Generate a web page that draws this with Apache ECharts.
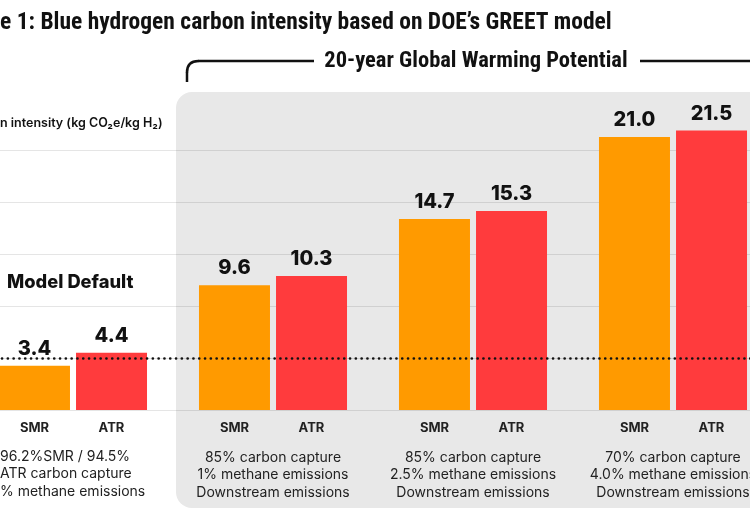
<!DOCTYPE html>
<html>
<head>
<meta charset="utf-8">
<script src="https://cdn.jsdelivr.net/npm/echarts@6/dist/echarts.min.js"></script>
<style>
  html, body { margin: 0; padding: 0; background: #ffffff; }
  #chart { width: 750px; height: 513px; }
</style>
</head>
<body>
<div id="chart"></div>
<script>
// ---- data ----
const groups = ['Model Default', '85/1', '85/2.5', '70/4.0'];
const smrValues = [3.4, 9.6, 14.7, 21.0];
const atrValues = [4.4, 10.3, 15.3, 21.5];
const barNames = ['SMR', 'ATR'];
const groupDescriptions = [
  '',
  '85% carbon capture\n1% methane emissions\nDownstream emissions',
  '85% carbon capture\n2.5% methane emissions\nDownstream emissions',
  '70% carbon capture\n4.0% methane emissions\nDownstream emissions'
];
const defaultDescription = ['96.2%SMR / 94.5%', 'ATR carbon capture', '% methane emissions'];
const thresholdValue = 4;
const yTicks = [0, 4, 8, 12, 16, 20, 24];

const chart = echarts.init(document.getElementById('chart'), null, { renderer: 'canvas' });

const FONT = 'Inter, "Noto Sans", sans-serif';
const CONDENSED = '"Liberation Sans Narrow", "Roboto Condensed", "DejaVu Sans Condensed", sans-serif';

const valueLabel = {
  show: true,
  position: 'top',
  distance: 7,
  fontFamily: FONT,
  fontWeight: 800,
  fontSize: 20,
  color: '#111'
};

const option = {
  backgroundColor: '#ffffff',
  animation: false,
  grid: { left: -27, width: 800, top: 98, bottom: 103, containLabel: false, outerBoundsMode: 'none' },
  xAxis: [
    {
      type: 'category',
      data: groups,
      position: 'bottom',
      axisLine: { show: false },
      axisTick: { show: false },
      axisLabel: {
        interval: 0,
        margin: 12,
        formatter: function () { return '{s|' + barNames[0] + '}{a|' + barNames[1] + '}'; },
        rich: {
          s: { width: 77, align: 'center', fontFamily: FONT, fontWeight: 700, fontSize: 13, color: '#222' },
          a: { width: 77, align: 'center', fontFamily: FONT, fontWeight: 700, fontSize: 13, color: '#222' }
        }
      }
    },
    {
      type: 'category',
      data: groups,
      position: 'bottom',
      axisLine: { show: false },
      axisTick: { show: false },
      axisLabel: {
        interval: 0,
        margin: 39,
        lineHeight: 17.5,
        fontFamily: FONT,
        fontSize: 14,
        color: '#222',
        formatter: function (v, i) { return groupDescriptions[i]; }
      }
    }
  ],
  yAxis: {
    type: 'value',
    min: yTicks[0],
    max: yTicks[yTicks.length - 1],
    interval: 4,
    axisLine: { show: false },
    axisTick: { show: false },
    axisLabel: { show: false },
    splitLine: {
      show: true,
      lineStyle: {
        width: 1,
        color: yTicks.map(function (t, i) { return i === yTicks.length - 1 ? 'rgba(0,0,0,0)' : 'rgba(0,0,0,0.1)'; })
      }
    }
  },
  series: [
    {
      name: 'SMR',
      type: 'bar',
      xAxisIndex: 0,
      data: smrValues,
      barWidth: 71,
      barGap: '8.5%',
      itemStyle: { color: '#FF9A00' },
      label: Object.assign({}, valueLabel, { formatter: function (p) { return p.value.toFixed(1); } }),
      z: 3
    },
    {
      name: 'ATR',
      type: 'bar',
      xAxisIndex: 0,
      data: atrValues,
      barWidth: 71,
      barGap: '8.5%',
      itemStyle: { color: '#FF3B3D' },
      label: Object.assign({}, valueLabel, { formatter: function (p) { return p.value.toFixed(1); } }),
      z: 3
    },
    {
      name: 'threshold',
      type: 'line',
      data: [],
      z: 10,
      markLine: {
        silent: true,
        symbol: ['none', 'none'],
        label: { show: false },
        lineStyle: { color: '#111', width: 2.6, type: [0.1, 5.7], cap: 'round' },
        data: [{ yAxis: thresholdValue }]
      }
    }
  ],
  graphic: [
    {
      type: 'rect',
      z: -100,
      shape: { x: 176, y: 92, width: 640, height: 416, r: 16 },
      style: { fill: '#e8e8e8' }
    },
    {
      type: 'polyline',
      z: 5,
      shape: { points: [[187, 82], [187, 72]] },
      style: { fill: null, stroke: '#111', lineWidth: 2.5 }
    },
    {
      type: 'bezierCurve',
      z: 5,
      shape: { x1: 187, y1: 72.5, cpx1: 187, cpy1: 61, x2: 198.5, y2: 61 },
      style: { fill: null, stroke: '#111', lineWidth: 2.5 }
    },
    {
      type: 'line',
      z: 5,
      shape: { x1: 198, y1: 61, x2: 314, y2: 61 },
      style: { stroke: '#111', lineWidth: 2.5 }
    },
    {
      type: 'line',
      z: 5,
      shape: { x1: 640, y1: 61, x2: 760, y2: 61 },
      style: { stroke: '#111', lineWidth: 2.5 }
    },
    {
      type: 'text',
      z: 5,
      x: 476, y: 61,
      style: {
        text: '20-year Global Warming Potential',
        font: 'bold 22.5px ' + CONDENSED,
        fill: '#111', textAlign: 'center', textVerticalAlign: 'middle'
      }
    },
    {
      type: 'text',
      z: 5,
      x: 0, y: 23,
      style: {
        text: 'e 1: Blue hydrogen carbon intensity based on DOE\u2019s GREET model',
        font: 'bold 23.5px ' + CONDENSED,
        fill: '#111', textAlign: 'left', textVerticalAlign: 'middle'
      }
    },
    {
      type: 'text',
      z: 5,
      x: 0, y: 123,
      style: {
        text: 'n intensity (kg CO\u2082e/kg H\u2082)',
        font: '600 12.5px ' + FONT,
        fill: '#111', textAlign: 'left', textVerticalAlign: 'middle'
      }
    },
    {
      type: 'text',
      z: 5,
      x: 7, y: 283,
      style: {
        text: 'Model Default',
        font: '800 18.3px ' + FONT,
        fill: '#111', textAlign: 'left', textVerticalAlign: 'middle'
      }
    },
    {
      type: 'text',
      z: 5,
      x: 0, y: 448,
      style: {
        text: defaultDescription.join('\n'),
        font: '14px ' + FONT,
        lineHeight: 17.5,
        fill: '#222', textAlign: 'left', textVerticalAlign: 'top'
      }
    }
  ]
};

chart.setOption(option);
</script>
</body>
</html>
